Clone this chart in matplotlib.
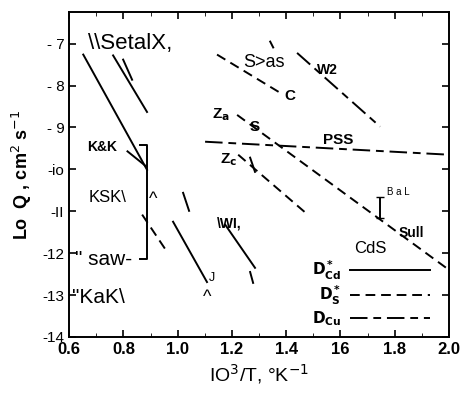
import numpy as np
import matplotlib
matplotlib.use('Agg')
import matplotlib.pyplot as plt
from matplotlib.lines import Line2D

plt.rcParams['font.family'] = ['Liberation Sans', 'DejaVu Sans']

# axis ticks and labels (as printed in the scan)
x_ticks = [0.6, 0.8, 1.0, 1.2, 1.4, 1.6, 1.8, 2.0]
x_ticklabels = ['0.6', '0.8', '1.0', '1.2', '1.4', '16', '1.8', '2.0']
y_ticks = [-14, -13, -12, -11, -10, -9, -8, -7]
y_ticklabels = ['-14', '-13', '-12', '-II', '-io', '- 9', '- 8', '- 7']

# solid lines (D*Cd)
kk_x = [0.652, 0.887]
kk_y = [-7.26, -10.01]
kk2_x = [0.815, 0.884]
kk2_y = [-9.57, -9.93]
setal_x = [0.762, 0.887]
setal_y = [-7.28, -8.63]
setal2_x = [0.799, 0.832]
setal2_y = [-7.38, -7.86]
j_x = [0.983, 1.108]
j_y = [-11.25, -12.69]
short_x = [1.02, 1.042]
short_y = [-10.56, -10.99]
wi_x = [1.175, 1.285]
wi_y = [-11.32, -12.35]
wi2_x = [1.267, 1.278]
wi2_y = [-12.45, -12.71]
zc_slash_x = [1.267, 1.285]
zc_slash_y = [-9.72, -10.06]
tick_x = [1.341, 1.352]
tick_y = [-6.95, -7.09]

# vertical range bar (K&K / saw)
bar_x = [0.86, 0.887, 0.887, 0.86]
bar_y = [-9.41, -9.41, -12.14, -12.14]

# dashed lines (D*S)
ksk_x = [0.869, 0.961]
ksk_y = [-11.08, -11.97]
zc_x = [1.223, 1.481]
zc_y = [-9.65, -11.09]
s_x = [1.219, 2.0]
s_y = [-8.70, -12.40]
c_x = [1.145, 1.377]
c_y = [-7.26, -8.17]

# long-short dashed lines (DCu)
pss_x = [1.101, 2.0]
pss_y = [-9.34, -9.65]
w2_x = [1.44, 1.746]
w2_y = [-7.22, -8.98]

# error bar (BaL)
bal_x = [1.746]
bal_y = [-10.91]
bal_err = [0.25]

fig = plt.figure(figsize=(4.61, 3.95), dpi=100)
ax = fig.add_axes([0.150, 0.147, 0.824, 0.823])

lw = 1.4
solid = '-'
short_dash = (0, (5, 3))
long_short = (0, (9, 3, 4, 3))

for xs, ys in [(kk_x, kk_y), (kk2_x, kk2_y), (setal_x, setal_y), (setal2_x, setal2_y),
               (j_x, j_y), (short_x, short_y), (wi_x, wi_y), (wi2_x, wi2_y),
               (zc_slash_x, zc_slash_y), (tick_x, tick_y), (bar_x, bar_y)]:
    ax.plot(xs, ys, color='black', lw=lw, ls=solid)

for xs, ys in [(ksk_x, ksk_y), (zc_x, zc_y), (s_x, s_y), (c_x, c_y)]:
    ax.plot(xs, ys, color='black', lw=lw, ls=short_dash)

for xs, ys in [(pss_x, pss_y), (w2_x, w2_y)]:
    ax.plot(xs, ys, color='black', lw=lw, ls=long_short)

ax.errorbar(bal_x, bal_y, yerr=bal_err, color='black', lw=1.4, capsize=3, fmt='none')

# labels in the plot
ax.text(0.67, -7.0, '\\\\SetalX,', fontsize=16, va='center', ha='left')
ax.text(0.667, -9.46, 'K&K', fontsize=10, fontweight='bold', va='center')
ax.text(0.67, -10.68, 'KSK\\', fontsize=12, va='center')
ax.text(0.622, -12.16, '" saw-', fontsize=15, va='center')
ax.text(0.611, -13.05, '"KaK\\', fontsize=15, va='center')
ax.text(0.91, -10.73, '^', fontsize=13, ha='center', va='center')
ax.text(1.108, -13.07, '^', fontsize=13, ha='center', va='center')
ax.text(1.127, -12.6, 'J', fontsize=9, ha='center', va='center')
ax.text(1.145, -11.3, '\\WI,', fontsize=10, fontweight='bold', va='center')
ax.text(1.127, -8.70, 'Z$_\\mathbf{a}$', fontsize=11, fontweight='bold', va='center')
ax.text(1.285, -9.0, 'S', fontsize=11, fontweight='bold', ha='center', va='center')
ax.text(1.156, -9.77, 'Z$_\\mathbf{c}$', fontsize=11, fontweight='bold', va='center')
ax.text(1.414, -8.24, 'C', fontsize=11, fontweight='bold', ha='center', va='center')
ax.text(1.55, -7.62, 'W2', fontsize=10, fontweight='bold', ha='center', va='center')
ax.text(1.59, -9.29, 'PSS', fontsize=11, fontweight='bold', ha='center', va='center')
ax.text(1.86, -11.52, 'Sull', fontsize=10, fontweight='bold', ha='center', va='center')
ax.text(1.77, -10.54, 'B a L', fontsize=7, ha='left', va='center')
ax.text(1.241, -7.45, 'S>as', fontsize=13, ha='left', va='center')

# legend with labels on the left
handles = [Line2D([], [], color='black', lw=lw, ls=solid),
           Line2D([], [], color='black', lw=lw, ls=short_dash),
           Line2D([], [], color='black', lw=lw, ls=long_short)]
labels = ['$\\mathbf{D^*_{Cd}}$', '$\\mathbf{D^*_{S}}$', '$\\mathbf{D_{Cu}}$']
leg = ax.legend(handles, labels, title='CdS', markerfirst=False, frameon=False,
                loc='lower right', bbox_to_anchor=(0.985, -0.015), handlelength=5.2,
                fontsize=11, title_fontsize=12, labelspacing=0.15, handletextpad=0.6)

ax.set_xlim(0.6, 2.0)
ax.set_ylim(-14, -6.24)
ax.set_xticks(x_ticks)
ax.set_xticklabels(x_ticklabels, fontsize=12, fontweight='bold')
ax.set_xticks(np.arange(0.6, 2.01, 0.1), minor=True)
ax.set_yticks(y_ticks)
ax.set_yticklabels(y_ticklabels, fontsize=11)
ax.tick_params(direction='in', top=True, right=True, length=5, width=1.2)
ax.tick_params(which='minor', direction='in', top=True, right=False, length=3)
for sp in ax.spines.values():
    sp.set_linewidth(1.4)

ax.set_xlabel('IO$^3$/T, °K$^{-1}$', fontsize=14, labelpad=4)
ax.set_ylabel('Lo  Q , cm$^2$ s$^{-1}$', fontsize=13, fontweight='bold', labelpad=6)

fig.savefig('out.png', dpi=100)
